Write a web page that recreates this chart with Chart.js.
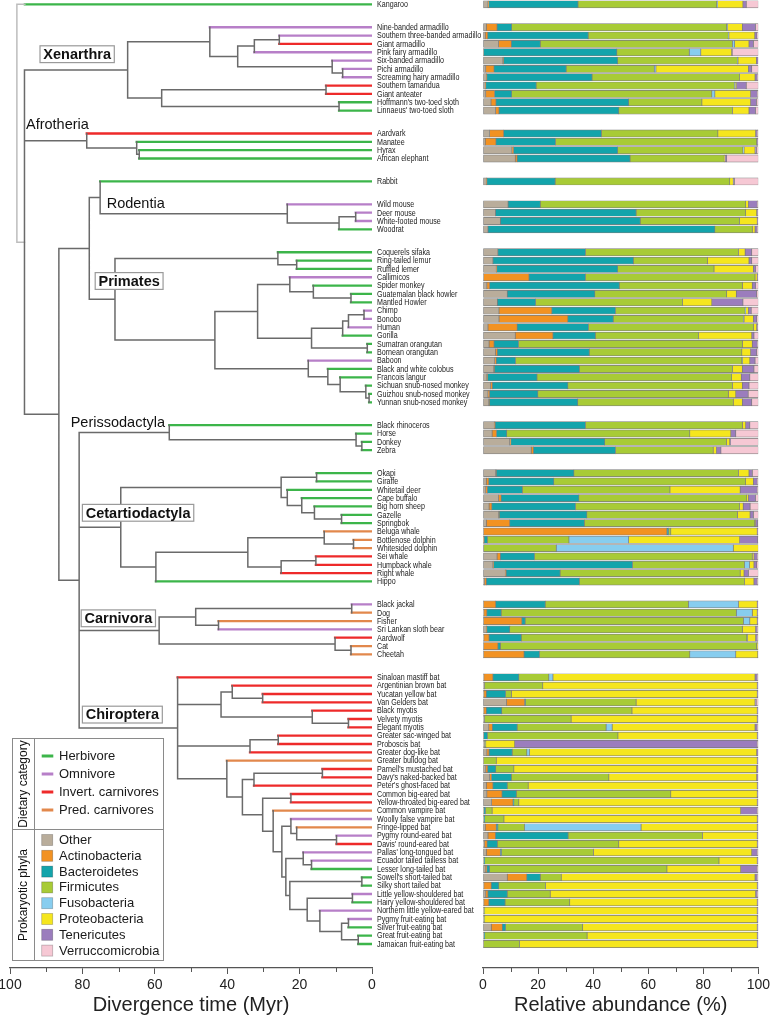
<!DOCTYPE html>
<html><head><meta charset="utf-8">
<script src="https://cdn.jsdelivr.net/npm/chart.js@4.4.1/dist/chart.umd.min.js"></script>
<style>
html,body{margin:0;padding:0;background:#fff;width:773px;height:1020px;overflow:hidden;}
#tw{position:absolute;left:-10px;top:0;width:492px;height:1020px;}
#bw{position:absolute;left:463px;top:0;width:310px;height:1020px;}
canvas{display:block;}
</style></head><body>
<div id="tw"><canvas id="tree" width="492" height="1020" style="width:492px;height:1020px"></canvas></div>
<div id="bw"><canvas id="bars" width="310" height="1020" style="width:310px;height:1020px"></canvas></div>
<script>
// ---------------- DATA ----------------
const speciesGroups = [
 ["Kangaroo"],
 ["Nine-banded armadillo","Southern three-banded armadillo","Giant armadillo","Pink fairy armadillo","Six-banded armadillo","Pichi armadillo","Screaming hairy armadillo","Southern tamandua","Giant anteater","Hoffmann's two-toed sloth","Linnaeus' two-toed sloth"],
 ["Aardvark","Manatee","Hyrax","African elephant"],
 ["Rabbit"],
 ["Wild mouse","Deer mouse","White-footed mouse","Woodrat"],
 ["Coquerels sifaka","Ring-tailed lemur","Ruffled lemer","Callimicos","Spider monkey","Guatemalan black howler","Mantled Howler","Chimp","Bonobo","Human","Gorilla","Sumatran orangutan","Bornean orangutan","Baboon","Black and white colobus","Francois langur","Sichuan snub-nosed monkey","Guizhou snub-nosed monkey","Yunnan snub-nosed monkey"],
 ["Black rhinoceros","Horse","Donkey","Zebra"],
 ["Okapi","Giraffe","Whitetail deer","Cape buffalo","Big horn sheep","Gazelle","Springbok","Beluga whale","Bottlenose dolphin","Whitesided dolphin","Sei whale","Humpback whale","Right whale","Hippo"],
 ["Black jackal","Dog","Fisher","Sri Lankan sloth bear","Aardwolf","Cat","Cheetah"],
 ["Sinaloan mastiff bat","Argentinian brown bat","Yucatan yellow bat","Van Gelders bat","Black myotis","Velvety myotis","Elegant myotis","Greater sac-winged bat","Proboscis bat","Greater dog-like bat","Greater bulldog bat","Parnell's mustached bat","Davy's naked-backed bat","Peter's ghost-faced bat","Common big-eared bat","Yellow-throated big-eared bat","Common vampire bat","Woolly false vampire bat","Fringe-lipped bat","Pygmy round-eared bat","Davis' round-eared bat","Pallas' long-tongued bat","Ecuador tailed tailless bat","Lesser long-tailed bat","Sowell's short-tailed bat","Silky short tailed bat","Little yellow-shouldered bat","Hairy yellow-shouldered bat","Northern little yellow-eared bat","Pygmy fruit-eating bat","Silver fruit-eating bat","Great fruit-eating bat","Jamaican fruit-eating bat"]
];
// H herbivore, O omnivore, I invert. carnivore, P pred. carnivore
const dietCodes = "H OOIOOOOIIHH IHHH H OOOH HHHOHHHOOOHHHOHHHHH HHHH HHHHHHHPPPIIIH OPPOIPP IIIIIIIIIIPIIIIIPOPOIOOHHHOHOOHHH";

// Tree: [node age (Myr), children...]; leaves are species names
const xenarthraTree = [67.5,
  [44.8, "Nine-banded armadillo",
    [37.1,
      [32.5, [25.6, "Southern three-banded armadillo", "Giant armadillo"], "Pink fairy armadillo"],
      [11.0, "Six-banded armadillo", [8.1, "Pichi armadillo", "Screaming hairy armadillo"]]]],
  [58.1, [12.7, "Southern tamandua", "Giant anteater"], [9.1, "Hoffmann's two-toed sloth", "Linnaeus' two-toed sloth"]]];
const afrotheriaTree = [78.8, "Aardvark", [65.0, "Manatee", [64.3, "Hyrax", "African elephant"]]];
const gliresTree = [75.1, "Rabbit", [23.4, "Wild mouse", [9.1, [4.5, "Deer mouse", "White-footed mouse"], "Woodrat"]]];
const primatesTree = [71.0,
  [26.0, "Coquerels sifaka", [20.8, "Ring-tailed lemur", "Ruffled lemer"]],
  [43.4,
    [31.6,
      [22.7, "Callimicos", [16.2, "Spider monkey", [5.8, "Guatemalan black howler", "Mantled Howler"]]],
      [16.7, [8.1, [6.5, [2.2, "Chimp", "Bonobo"], "Human"], "Gorilla"], [1.3, "Sumatran orangutan", "Bornean orangutan"]]],
    [17.6, "Baboon", [12.2, "Black and white colobus", [8.8, "Francois langur", [1.7, "Sichuan snub-nosed monkey", [0.8, "Guizhou snub-nosed monkey", "Yunnan snub-nosed monkey"]]]]]]];
const perissTree = [56.0, "Black rhinoceros", [4.4, "Horse", [2.8, "Donkey", "Zebra"]]];
const cetartTree = [69.4,
  [25.1, [15.3, "Okapi", "Giraffe"], [23.4, "Whitetail deer", [19.4, "Cape buffalo", [15.9, "Big horn sheep", [8.4, "Gazelle", "Springbok"]]]]],
  [59.7, [34.3, [13.2, "Beluga whale", [5.1, "Bottlenose dolphin", "Whitesided dolphin"]], [25.1, [15.5, "Sei whale", "Humpback whale"], "Right whale"]], "Hippo"]];
const carnivoraTree = [58.8,
  [48.7, [5.6, "Black jackal", "Dog"], [42.4, "Fisher", "Sri Lankan sloth bear"]],
  [10.2, "Aardwolf", [5.8, "Cat", "Cheetah"]]];
const noctilionoidTree = [24.9,
  [22.4, "Woolly false vampire bat", [20.8, "Fringe-lipped bat", [9.8, "Pygmy round-eared bat", "Davis' round-eared bat"]]],
  [23.8, [19.0, "Pallas' long-tongued bat", [16.7, "Ecuador tailed tailless bat", "Lesser long-tailed bat"]],
    [22.7, [2.8, "Sowell's short-tailed bat", "Silky short tailed bat"],
      [17.9, [5.4, "Little yellow-shouldered bat", "Hairy yellow-shouldered bat"],
        [14.4, "Northern little yellow-eared bat", [8.4, [6.5, "Pygmy fruit-eating bat", "Silver fruit-eating bat"], [3.8, "Great fruit-eating bat", "Jamaican fruit-eating bat"]]]]]]];
const chiropteraTree = [53.7, "Sinaloan mastiff bat",
  [41.7, [38.6, "Argentinian brown bat", [30.2, "Yucatan yellow bat", "Van Gelders bat"]], [16.5, "Black myotis", [6.5, "Velvety myotis", "Elegant myotis"]]],
  [33.7, [25.9, "Greater sac-winged bat", "Proboscis bat"], "Greater dog-like bat"],
  [40.1, "Greater bulldog bat",
    [35.8,
      [32.6, [13.7, "Parnell's mustached bat", "Davy's naked-backed bat"], "Peter's ghost-faced bat"],
      [30.2, [22.4, "Common big-eared bat", "Yellow-throated big-eared bat"],
        [27.3, "Common vampire bat", noctilionoidTree]]]]];
const tree = [98.1,
  [95.9, "Kangaroo"],
  [96.0, xenarthraTree, afrotheriaTree,
    [86.5,
      [78.1, gliresTree, primatesTree],
      [80.9, perissTree, cetartTree, carnivoraTree, chiropteraTree]]]];

const phyla = ["Other","Actinobacteria","Bacteroidetes","Firmicutes","Fusobacteria","Proteobacteria","Tenericutes","Verruccomicrobia"];

const other = [1.8, 1.2,0.8,5.6,0.2,7.2,1.0,1.2,0.8,1.0,2.9,4.6, 2.4,0.8,10.5,11.7, 1.2, 9.1,4.5,6.3,1.8,
 5.4,3.6,4.8,0.2,1.4,8.8,5.2,5.8,5.8,1.8,11.7,2.2,4.5,4.2,3.9,1.4,2.8,1.8,2.1, 4.1,3.3,9.7,17.5,
 4.6,1.2,1.0,5.6,2.2,5.7,1.2,0.2,0.2,0,5.1,3.6,8.1,0.5, 0.2,0.3,0.2,1.2,0.3,0.2,0.2,
 0.3,0.5,0.3,8.5,0.3,0.5,2.1,0.2,0.5,1.4, 0.2,1.0,2.4,1.2,1.4,3.1,0.3,0.3,0.8,1.8, 0.5,1.2,0.3,0.8,8.8,0.3,1.0,0.3,0.3,0.3, 3.0,0.3,0.2];
const actinobacteria = [0.3, 3.9,0.9,4.7,0,0.2,3.0,0.2,0.2,3.2,1.8,1.2, 5.1,3.9,0.6,0.7, 0.2, 0,0,0,0,
 0,0,0.2,16.5,1.0,0,0,19.2,25.0,10.6,13.7,1.8,0.7,0.6,0.2,0.2,0.6,0.6,0.2, 0.3,1.6,0.4,0.8,
 0.2,0.9,0.6,1.0,1.0,0.2,8.5,66.6,0.2,0,1.2,0.2,0.3,0.7, 4.4,1.1,13.9,0.2,1.9,5.2,14.7,
 3.3,0,0.9,6.6,0.9,0,1.3,0,0,0.8, 0,0.7,0.7,2.4,5.5,7.8,0,0,4.0,2.7, 1.0,5.1,0,0.6,7.1,2.7,0.8,1.8,0,0, 4.0,0,0];
const bacteroidetes = [32.4, 5.3,36.5,10.5,48.4,41.5,26.2,38.2,18.3,6.2,48.2,43.5, 35.5,21.6,37.8,41.0, 24.8, 11.7,51.1,50.8,82.4,
 31.8,51.0,43.9,20.5,47.1,31.8,13.9,23.1,16.5,25.9,15.4,8.9,33.4,7.0,30.9,18.0,27.4,17.5,32.1, 32.8,3.7,34.1,29.8,
 28.2,23.6,12.7,28.2,30.4,31.8,27.1,0.6,1.2,0,12.4,50.5,19.6,33.8, 18.0,5.2,1.2,8.3,11.7,0.9,5.6,
 9.4,0,7.0,0.3,5.6,0,9.0,1.4,0,8.4, 0,2.9,7.2,5.2,5.2,0.3,0.6,0.3,0.6,26.4, 3.7,0.4,0.3,1.0,4.9,2.7,7.0,5.9,0,0, 1.2,0.3,0];
const firmicutes = [50.4, 78.1,50.9,69.8,26.3,43.5,32.0,53.6,72.0,72.7,26.6,41.3, 42.3,73.1,45.5,34.2, 63.4, 74.6,39.8,36.1,13.6,
 55.6,26.9,35.0,61.6,44.7,47.9,53.4,47.1,47.3,59.9,37.5,81.3,55.4,82.2,55.6,70.7,59.8,69.2,56.5, 57.0,66.5,44.2,35.5,
 59.8,69.7,53.6,61.0,59.6,54.7,61.9,0.8,29.6,26.6,79.1,40.7,65.4,60.0, 52.0,85.4,79.3,84.5,81.9,93.1,54.6,
 10.9,21.2,2.1,40.2,47.3,31.5,32.3,47.4,0.5,5.3, 4.6,6.6,35.4,7.6,56.1,1.8,2.4,7.0,9.7,48.8, 44.1,33.4,85.1,64.4,7.6,17.0,15.6,23.5,0.3,0.3, 28.0,37.2,13.1];
const fusobacteria = [0.3, 0.3,0.2,0.8,4.2,0.2,0.6,0,0.3,1.1,0,0, 0,0,0.4,0, 0, 0,0,0,0,
 0,0,0,0,0,0,0,0.2,0.2,0,0,0,0,0.2,0,0,0,0,0, 0,0,0,0,
 0,0,0,0,0,0,0,0,21.7,64.3,0,1.8,0,0, 18.2,5.8,2.3,0,0.2,0,16.7,
 1.5,0,0,0,0,0,2.2,0,0,1.0, 0,0,0,0,0,0,0,0,42.3,0, 0,0,0,0,0,0,0,0,0,0, 0,0,0];
const proteobacteria = [9.2, 5.4,9.4,5.2,11.2,6.7,33.6,5.6,0.5,13.0,17.7,6.0, 13.7,0,4.0,0.3, 1.3, 1.0,4.0,6.4,1.0,
 2.4,15.1,14.3,0.8,3.6,3.5,10.6,1.0,3.4,1.2,19.3,3.6,3.2,2.7,3.6,3.5,3.6,2.7,3.3, 1.2,14.9,1.2,1.2,
 3.8,2.8,25.5,0.6,1.3,4.6,0.2,31.4,40.3,9.1,0.6,1.6,1.4,3.4, 6.8,1.8,2.7,4.8,3.0,0.4,8.0,
 73.4,77.9,89.3,43.2,45.5,67.6,51.9,50.6,10.5,82.5, 94.8,88.2,53.7,83.2,31.4,86.6,90.3,92.0,42.2,19.9, 50.3,57.5,13.9,26.8,70.4,76.9,74.6,68.1,99.0,99.0, 63.4,61.8,86.3];
const tenericutes = [1.2, 4.8,0.8,1.6,0.2,0.7,1.2,0.8,3.5,2.4,2.1,2.4, 0.6,0.4,0.5,0.6, 0.4, 3.2,0.4,0.2,0.8,
 2.4,1.0,0.8,0.2,1.2,7.4,11.3,1.0,1.2,0.4,0.8,1.8,2.2,1.9,4.2,3.1,2.4,4.5,3.4, 1.5,1.8,0.3,1.6,
 1.2,1.4,6.2,2.6,2.5,1.2,0.9,0.2,6.6,0,1.2,1.0,1.6,1.2, 0.2,0.2,0.2,0.6,0.6,0.2,0.2,
 0.8,0.4,0.4,0.4,0.4,0.4,0.8,0.4,88.1,0.6, 0.4,0.6,0.6,0.4,0.4,0.4,6.0,0.4,0.4,0.4, 0.4,2.0,0.4,6.0,0.8,0.4,0.6,0.4,0.4,0.4, 0.4,0.4,0.4];
const verrucomicrobia = [4.4, 1.0,0.5,1.8,9.5,0,2.4,0.4,4.4,0.4,0.7,1.0, 0.4,0.2,0.7,11.5, 8.7, 0.4,0.2,0.2,0.4,
 2.4,2.4,1.0,0.2,1.0,0.6,5.6,2.6,0.6,0.2,1.6,0.4,0.6,1.2,1.6,3.1,3.4,3.7,2.4, 3.1,8.2,10.1,13.6,
 2.2,0.4,0.4,1.0,3.0,1.8,0.2,0.2,0.2,0,0.4,0.6,3.6,0.4, 0.2,0.2,0.2,0.4,0.4,0,0,
 0.4,0,0,0.8,0,0,0.4,0,0.4,0, 0,0,0,0,0,0,0.4,0,0,0, 0,0.4,0,0.4,0.4,0,0.4,0,0,0, 0,0,0];

const timeTicks = [0,20,40,60,80,100];
const abundanceTicks = [0,20,40,60,80,100];

// ---------------- STYLE ----------------
const FONT = '"Liberation Sans", Arial, Helvetica, sans-serif';
Chart.defaults.font.family = FONT;
const phylaColors = ["#b9ad9b","#f29222","#13a4ab","#a8cb36","#87cdef","#f5e61e","#9b7dbd","#f6c8d4"];
const dietColors = {H:"#3cb54a", O:"#b77fc8", I:"#ee2a2a", P:"#e2884c"};
const dietNames = [["H","Herbivore"],["O","Omnivore"],["I","Invert. carnivores"],["P","Pred. carnivores"]];
const GRAY = "#6a6a6a", LIGHT = "#bdbdbd";

// ---------------- DERIVED ----------------
const names = speciesGroups.flat();
const diet = dietCodes.replace(/ /g,'').split('');
const gapRows = 2.75;
const ypos = [];
(function(){ let p = 0; speciesGroups.forEach((g, gi) => { if (gi > 0) p += gapRows - 1; g.forEach(() => { ypos.push(p); p += 1; }); }); })();
const Y_MIN = -0.52, Y_MAX = ypos[ypos.length-1] + 2.88;

const lines = {gray:[], light:[], H:[], O:[], I:[], P:[]};
function seg(arr, x1, y1, x2, y2){ arr.push({x:x1,y:y1},{x:x2,y:y2},{x:null,y:null}); }
function walk(node, parentAge, depth){
  if (typeof node === 'string'){
    const i = names.indexOf(node);
    const y = ypos[i];
    seg(lines[diet[i]], parentAge, y, 0, y);
    return y;
  }
  const age = node[0];
  const ys = node.slice(1).map(c => walk(c, age, depth+1));
  const y = (ys[0] + ys[ys.length-1]) / 2;
  if (ys.length > 1) seg(depth === 0 ? lines.light : lines.gray, age, ys[0], age, ys[ys.length-1]);
  if (parentAge !== null) seg(depth === 1 ? lines.light : lines.gray, parentAge, y, age, y);
  return y;
}
walk(tree, null, 0);

// ---------------- PLUGINS ----------------
const minorTicks = {
  id:'minorTicks',
  afterDraw(chart){
    const {ctx, chartArea, scales:{x}} = chart;
    ctx.save(); ctx.strokeStyle = '#555'; ctx.lineWidth = 1;
    [10,30,50,70,90].forEach(v => {
      const px = Math.round(x.getPixelForValue(v)) + 0.5;
      ctx.beginPath(); ctx.moveTo(px, chartArea.bottom); ctx.lineTo(px, chartArea.bottom + 4); ctx.stroke();
    });
    ctx.restore();
  }
};

const OX = 10; // tree canvas is shifted 10px left of the page
const cladeLabels = [
  {t:'Xenarthra', x:43.3, y:54.2, box:true},
  {t:'Afrotheria', x:26, y:124.5, box:false},
  {t:'Rodentia', x:106.7, y:202.7, box:false},
  {t:'Primates', x:98.5, y:281, box:true},
  {t:'Perissodactyla', x:70.7, y:422.3, box:false},
  {t:'Cetartiodactyla', x:85.7, y:512.8, box:true},
  {t:'Carnivora', x:84.5, y:618.3, box:true},
  {t:'Chiroptera', x:85.7, y:714.6, box:true}
];

const treeDecor = {
  id:'treeDecor',
  afterDraw(chart){
    const {ctx, chartArea, scales:{y}} = chart;
    ctx.save();
    ctx.fillStyle = '#222';
    ctx.font = '8.8px ' + FONT;
    ctx.textBaseline = 'middle'; ctx.textAlign = 'left';
    names.forEach((n, i) => {
      const py = y.getPixelForValue(ypos[i]);
      ctx.save(); ctx.translate(chartArea.right + 5, py + 0.4); ctx.scale(0.81, 1); ctx.fillText(n, 0, 0); ctx.restore();
    });
    cladeLabels.forEach(c => {
      ctx.font = (c.box ? 'bold ' : '') + '14.5px ' + FONT;
      const w = ctx.measureText(c.t).width;
      if (c.box){
        ctx.fillStyle = '#fff'; ctx.strokeStyle = '#9a9a9a'; ctx.lineWidth = 1.2;
        ctx.fillRect(c.x + OX - 3.3, c.y - 8.4, w + 6.6, 16.8);
        ctx.strokeRect(c.x + OX - 3.3, c.y - 8.4, w + 6.6, 16.8);
      }
      ctx.fillStyle = '#111'; ctx.textBaseline = 'middle';
      ctx.fillText(c.t, c.x + OX, c.y + 0.8);
    });
    const L = 12.5 + OX, R = 163.5 + OX, T = 738.5, B = 960.5, D = 34.5 + OX, H = 829.5;
    ctx.fillStyle = '#fff'; ctx.fillRect(L, T, R - L, B - T);
    ctx.strokeStyle = '#8a8a8a'; ctx.lineWidth = 1;
    ctx.strokeRect(L, T, R - L, B - T);
    ctx.beginPath(); ctx.moveTo(D, T); ctx.lineTo(D, B); ctx.moveTo(L, H); ctx.lineTo(R, H); ctx.stroke();
    ctx.fillStyle = '#111'; ctx.font = '12px ' + FONT; ctx.textAlign = 'center'; ctx.textBaseline = 'middle';
    ctx.save(); ctx.translate(23.5 + OX, 784); ctx.rotate(-Math.PI/2); ctx.fillText('Dietary category', 0, 0); ctx.restore();
    ctx.save(); ctx.translate(23.5 + OX, 895); ctx.rotate(-Math.PI/2); ctx.fillText('Prokaryotic phyla', 0, 0); ctx.restore();
    ctx.textAlign = 'left'; ctx.font = '13px ' + FONT;
    dietNames.forEach((d, k) => {
      const yy = 756 + k * 18;
      ctx.strokeStyle = dietColors[d[0]]; ctx.lineWidth = 3;
      ctx.beginPath(); ctx.moveTo(41.7 + OX, yy); ctx.lineTo(53.3 + OX, yy); ctx.stroke();
      ctx.fillStyle = '#1a1a1a'; ctx.fillText(d[1], 59 + OX, yy + 0.5);
    });
    phyla.forEach((p, k) => {
      const yy = 840 + k * 15.8;
      ctx.fillStyle = phylaColors[k]; ctx.fillRect(41.7 + OX, yy - 5.5, 11, 11);
      ctx.strokeStyle = 'rgba(0,0,0,0.25)'; ctx.lineWidth = 0.8; ctx.strokeRect(41.7 + OX, yy - 5.5, 11, 11);
      ctx.fillStyle = '#1a1a1a'; ctx.fillText(p, 59 + OX, yy + 0.5);
    });
    ctx.restore();
  }
};

function xAxis(title, reverse){
  return {
    type:'linear', min:0, max:100, reverse:reverse, offset:false,
    afterFit(s){ s.height = 52; },
    afterBuildTicks(s){ s.ticks = (reverse ? timeTicks : abundanceTicks).map(v => ({value:v})); },
    border:{display:true, color:'#555', width:1.3},
    grid:{drawOnChartArea:false, drawTicks:true, tickLength:6, color:'#555', lineWidth:1, offset:false},
    ticks:{font:{size:14, family:FONT}, color:'#222', maxRotation:0, autoSkip:false, padding:3},
    title:{display:true, text:title, font:{size:20, family:FONT}, color:'#222', padding:{top:0, bottom:3}}
  };
}
const yAxis = {type:'linear', min:Y_MIN, max:Y_MAX, reverse:true, display:false, offset:false, grid:{offset:false}};

function lineDs(data, color, w){
  return {data, showLine:true, borderColor:color, borderWidth:w, pointRadius:0, pointHoverRadius:0,
          spanGaps:false, fill:false, tension:0, borderCapStyle:'square', borderJoinStyle:'miter'};
}
new Chart(document.getElementById('tree'), {
  type:'scatter',
  data:{datasets:[
    lineDs(lines.gray, GRAY, 1.5),
    lineDs(lines.light, LIGHT, 1.5),
    lineDs(lines.H, dietColors.H, 2.3),
    lineDs(lines.O, dietColors.O, 2.3),
    lineDs(lines.I, dietColors.I, 2.3),
    lineDs(lines.P, dietColors.P, 2.3)
  ]},
  options:{
    responsive:false, animation:false, events:[],
    layout:{padding:{left:20, right:110, top:0, bottom:0}},
    plugins:{legend:{display:false}, tooltip:{enabled:false}},
    scales:{x:xAxis('Divergence time (Myr)', true), y:yAxis}
  },
  plugins:[minorTicks, treeDecor]
});

const seriesValues = [other, actinobacteria, bacteroidetes, firmicutes, fusobacteria, proteobacteria, tenericutes, verrucomicrobia];
new Chart(document.getElementById('bars'), {
  type:'bar',
  data:{datasets: seriesValues.map((vals, k) => ({
    label: phyla[k],
    data: names.map((n, i) => ({x: vals[i], y: ypos[i]})),
    backgroundColor: phylaColors[k],
    borderColor:'#7c7c7c', borderWidth:0.7, borderSkipped:false,
    barThickness:7.2
  }))},
  options:{
    indexAxis:'y', responsive:false, animation:false, events:[],
    layout:{padding:{left:20, right:14, top:0, bottom:0}},
    plugins:{legend:{display:false}, tooltip:{enabled:false}},
    scales:{
      x:Object.assign(xAxis('Relative abundance (%)', false), {stacked:true}),
      y:Object.assign({}, yAxis, {stacked:true})
    }
  },
  plugins:[minorTicks]
});
</script>
</body></html>
